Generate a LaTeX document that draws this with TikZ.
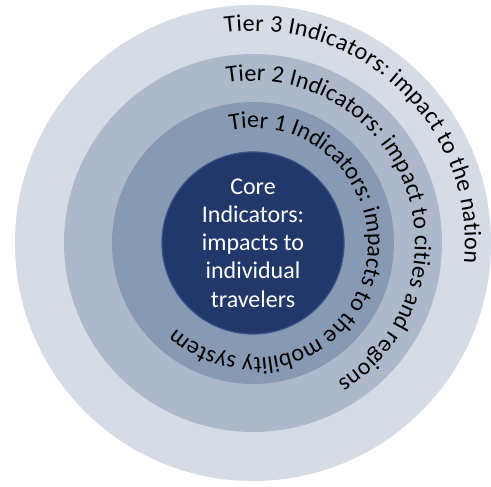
\documentclass[tikz,border=0pt]{standalone}
\usepackage{fontspec}
\setmainfont{Carlito}
\usetikzlibrary{decorations.text}
\definecolor{tierthreefill}{HTML}{D6DCE5}
\definecolor{tiertwofill}{HTML}{ADB9CA}
\definecolor{tieronefill}{HTML}{8899B3}
\definecolor{corefill}{HTML}{22386A}
\definecolor{coreedge}{HTML}{35528C}
\newcommand\ringfont{\fontsize{24}{29}\selectfont}
\newcommand\ringlabel[4]{%
  \path[ringtext, decoration={text={|\ringfont|#4}}]
    ([shift={(#2:#1)}]O) arc[start angle=#2, end angle=#3, radius=#1];
}

\begin{document}
\begin{tikzpicture}[x=1pt, y=1pt]
    \tikzstyle{ring}=[circle, draw=none, inner sep=0pt];
    \tikzstyle{ringtext}=[decorate, decoration={text along path, text color=black, text align=fit to path}];
    \useasboundingbox[fill=white] (0,0) rectangle (491,487);
    \coordinate (O) at (253,244);

    \node[ring, fill=tierthreefill, minimum size=476] (tierthree) at (O) {};
    \node[ring, fill=tiertwofill, minimum size=378] (tiertwo) at (O) {};
    \node[ring, fill=tieronefill, minimum size=282] (tierone) at (O) {};
    \node[ring, fill=corefill, draw=coreedge, line width=1.2pt, minimum size=182,
      text=white, align=center, font=\fontsize{24}{28.3}\selectfont] (core) at (O)
      {Core\\Indicators:\\impacts to\\individual\\travelers};

    \ringlabel{211.9}{97.6}{-5.5}{Tier 3 Indicators: impact to the nation}
    \ringlabel{162}{99.2}{-58.5}{Tier 2 Indicators: impact to cities and regions}
    \ringlabel{115}{101.5}{-131}{Tier 1 Indicators: impacts to the mobility system}
\end{tikzpicture}
\end{document}
